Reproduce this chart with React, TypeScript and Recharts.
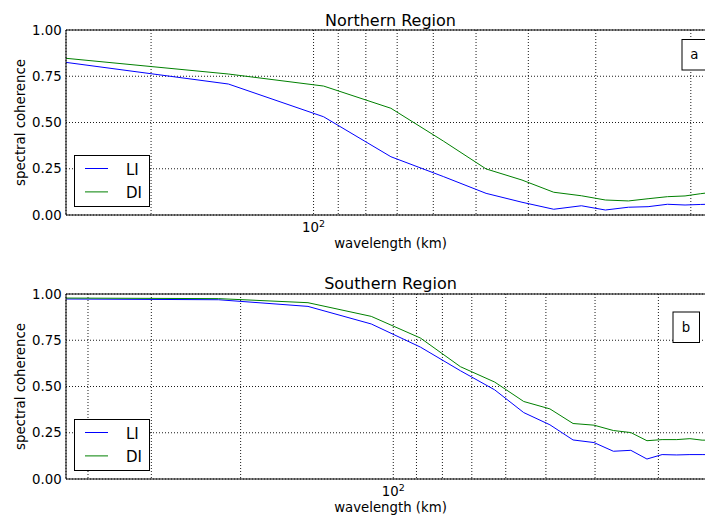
import React from 'react';
import { LineChart, Line, XAxis, YAxis, CartesianGrid, Legend, ReferenceLine } from 'recharts';

// wavelength (km) of each spectral estimate
const northWavelength = [287.5, 143.8, 95.8, 71.9, 57.5, 47.9, 41.1, 35.9, 31.9, 28.8, 26.1, 24.0, 22.1, 20.5, 19.2, 18.0];
const northLI = [0.825, 0.708, 0.531, 0.315, 0.208, 0.117, 0.069, 0.031, 0.05, 0.027, 0.042, 0.045, 0.058, 0.054, 0.057, 0.059];
const northDI = [0.847, 0.762, 0.697, 0.577, 0.4, 0.249, 0.189, 0.123, 0.104, 0.081, 0.076, 0.088, 0.099, 0.103, 0.115, 0.125];

const southWavelength = [442, 221, 147.3, 110.5, 88.4, 73.7, 63.1, 55.3, 49.1, 44.2, 40.2, 36.8, 34.0, 31.6, 29.5, 27.6, 26.0, 24.6, 23.3];
const southLI = [0.973, 0.969, 0.933, 0.838, 0.713, 0.585, 0.482, 0.359, 0.293, 0.211, 0.197, 0.15, 0.155, 0.108, 0.132, 0.13, 0.132, 0.132, 0.132];
const southDI = [0.978, 0.975, 0.953, 0.879, 0.762, 0.607, 0.524, 0.419, 0.379, 0.3, 0.291, 0.262, 0.251, 0.207, 0.213, 0.213, 0.218, 0.21, 0.21];

const seriesNames = ['LI', 'DI'];
const northTicks = [200, 100, 90, 80, 70, 60, 50, 40, 30, 20];
const southTicks = [400, 300, 200, 100, 90, 80, 70, 60, 50, 40, 30];
const yTicks = [0, 0.25, 0.5, 0.75, 1];

const FONT = "'DejaVu Sans', sans-serif";

const toRows = (w: number[], li: number[], di: number[]) =>
  w.map((v, i) => ({ w: v, li: li[i], di: di[i] }));

// only the decade gets a label, like matplotlib's log axis
const PowerTick = ({ x, y, payload }: any) => {
  if (payload.value !== 100) return <g />;
  return (
    <text x={x} y={y + 16.7} textAnchor="middle" fontSize={13.3} fontFamily={FONT} fill="#000">
      10<tspan dy={-5} fontSize={9.5}>2</tspan>
    </text>
  );
};

const LegendBox = ({ payload }: any) => {
  const items = [...(payload || [])].sort(
    (a: any, b: any) => seriesNames.indexOf(a.value) - seriesNames.indexOf(b.value)
  );
  return (
    <svg width={76} height={52} style={{ display: 'block' }}>
      <rect x={0.5} y={0.5} width={75} height={51} fill="#fff" stroke="#000" strokeWidth={1} />
      {items.map((p: any, i: number) => {
        const cy = 13.5 + i * 23.4;
        return (
          <g key={p.value}>
            <line x1={11} x2={34} y1={cy} y2={cy} stroke={p.color} strokeWidth={1} />
            <text x={52} y={cy + 6} fontSize={15} fontFamily={FONT} fill="#000">{p.value}</text>
          </g>
        );
      })}
    </svg>
  );
};

function Panel({ rows, domain, ticks, height, margin, legendTop }: any) {
  return (
    <LineChart width={730} height={height} data={rows} margin={margin}>
      <CartesianGrid stroke="#000" strokeWidth={0.9} strokeDasharray="1 2" />
      <XAxis
        dataKey="w"
        type="number"
        scale="log"
        domain={domain}
        reversed
        allowDataOverflow
        ticks={ticks}
        interval={0}
        tick={<PowerTick />}
        tickSize={0}
        tickMargin={0}
        height={30}
        axisLine={{ stroke: '#000' }}
      />
      <YAxis
        type="number"
        domain={[0, 1]}
        ticks={yTicks}
        tickFormatter={(v: number) => v.toFixed(2)}
        width={50}
        tickSize={0}
        tickMargin={4.3}
        axisLine={{ stroke: '#000' }}
        tick={{ fontSize: 13.3, fill: '#000', fontFamily: FONT }}
      />
      <ReferenceLine y={1} stroke="#000" strokeWidth={1} />
      <Legend
        content={<LegendBox />}
        layout="vertical"
        align="center"
        verticalAlign="middle"
        wrapperStyle={{ left: 74, top: legendTop, width: 76, height: 52 }}
      />
      <Line type="linear" dataKey="li" name="LI" stroke="#0000ff" strokeWidth={1} dot={false} isAnimationActive={false} />
      <Line type="linear" dataKey="di" name="DI" stroke="#008000" strokeWidth={1} dot={false} isAnimationActive={false} />
    </LineChart>
  );
}

export default function App() {
  const north = toRows(northWavelength, northLI, northDI);
  const south = toRows(southWavelength, southLI, southDI);
  const txt = { fontFamily: FONT, fill: '#000' };

  return (
    <div style={{ position: 'absolute', left: 0, top: 0, width: 705, height: 518, overflow: 'hidden', background: '#fff' }}>
      <div style={{ position: 'absolute', left: 0, top: 0 }}>
        <Panel rows={north} domain={[18.04, 287.5]} ticks={northTicks} height={258}
          margin={{ top: 30, right: 15, left: 16, bottom: 13 }} legendTop={155} />
      </div>
      <div style={{ position: 'absolute', left: 0, top: 258 }}>
        <Panel rows={south} domain={[23.2, 442]} ticks={southTicks} height={260}
          margin={{ top: 36, right: 15, left: 16, bottom: 9 }} legendTop={161.3} />
      </div>
      <svg width={705} height={518} style={{ position: 'absolute', left: 0, top: 0, pointerEvents: 'none' }}>
        <text x={390.5} y={25.5} textAnchor="middle" fontSize={16} {...txt}>Northern Region</text>
        <text x={390.5} y={248} textAnchor="middle" fontSize={13.3} {...txt}>wavelength (km)</text>
        <text x={20} y={122.5} textAnchor="middle" dominantBaseline="central" fontSize={13.3}
          transform="rotate(-90, 20, 122.5)" {...txt}>spectral coherence</text>
        <rect x={682} y={39.5} width={25} height={30.5} fill="#fff" stroke="#000" strokeWidth={1} />
        <text x={694.3} y={59} textAnchor="middle" fontSize={13.3} {...txt}>a</text>

        <text x={390.5} y={288.5} textAnchor="middle" fontSize={16} {...txt}>Southern Region</text>
        <text x={390.5} y={512} textAnchor="middle" fontSize={13.3} {...txt}>wavelength (km)</text>
        <text x={20} y={386.5} textAnchor="middle" dominantBaseline="central" fontSize={13.3}
          transform="rotate(-90, 20, 386.5)" {...txt}>spectral coherence</text>
        <rect x={673} y={312} width={26.5} height={30.5} fill="#fff" stroke="#000" strokeWidth={1} />
        <text x={686} y={331.5} textAnchor="middle" fontSize={13.3} {...txt}>b</text>
      </svg>
    </div>
  );
}
